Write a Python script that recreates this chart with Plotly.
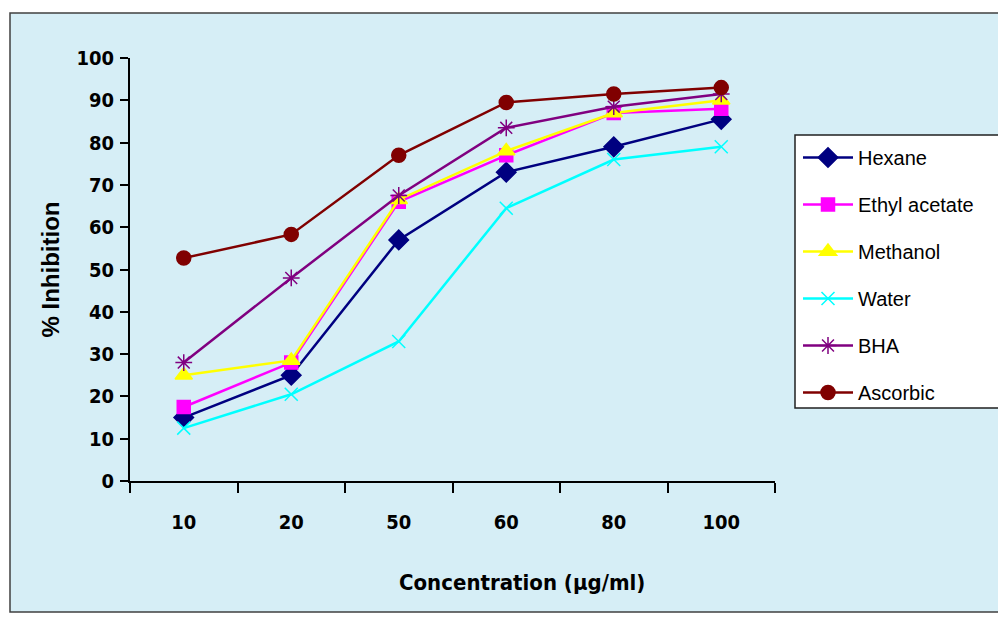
import plotly.graph_objects as go

categories = ["10", "20", "50", "60", "80", "100"]
hexane = [15, 25, 57, 73, 79, 85.5]
ethyl_acetate = [17.5, 28, 66, 77, 87, 88]
methanol = [25, 28.5, 66.5, 78, 87, 90]
water = [12.5, 20.5, 33, 64.5, 76, 79]
bha = [28, 48, 67.5, 83.5, 88.5, 91.5]
ascorbic = [52.7, 58.3, 77, 89.5, 91.5, 93]

series = [
    ("Hexane", hexane, "#000080", "diamond", 15),
    ("Ethyl acetate", ethyl_acetate, "#FF00FF", "square", 13),
    ("Methanol", methanol, "#FFFF00", "triangle-up", 15),
    ("Water", water, "#00FFFF", "x-thin-open", 13),
    ("BHA", bha, "#800080", "asterisk-open", 14),
    ("Ascorbic", ascorbic, "#800000", "circle", 14),
]

fig = go.Figure()
for i, (name, vals, col, sym, sz) in enumerate(series):
    fig.add_trace(go.Scatter(
        x=categories, y=vals, name=name, mode="lines+markers",
        line=dict(color=col, width=2.5),
        marker=dict(symbol=sym, size=sz, color=col, line=dict(color=col, width=1.5)),
        legendgroup=name,
    ))

W, H = 998, 617
L, R, T, B = 130, 998 - 775, 58, 617 - 481
pw, ph = W - L - R, H - T - B

def px_x(p):
    return (p - L) / pw

def px_y(p):
    return (H - B - p) / ph

# outer chart area
fig.add_shape(type="rect", xref="paper", yref="paper",
              x0=px_x(10), x1=px_x(1005), y0=px_y(612), y1=px_y(13),
              fillcolor="#D6EEF6", line=dict(color="#404040", width=1.5), layer="below")
# legend box (extends past the right edge like the reference)
fig.add_shape(type="rect", xref="paper", yref="paper",
              x0=px_x(795), x1=px_x(1010), y0=px_y(408), y1=px_y(135),
              fillcolor="white", line=dict(color="#202020", width=1.5), layer="below")

boldfam = "Liberation Sans Narrow, DejaVu Sans Condensed, Arial Narrow"
tickfont = dict(family=boldfam, size=20, color="black", weight="bold")

fig.add_annotation(text="Concentration (µg/ml)", xref="paper", yref="paper",
                   x=px_x(522), y=px_y(582), showarrow=False, xanchor="center", yanchor="middle",
                   font=dict(family=boldfam, size=22, color="black", weight="bold"))

fig.update_layout(
    width=W, height=H,
    margin=dict(l=L, r=R, t=T, b=B, pad=0, autoexpand=False),
    paper_bgcolor="white",
    plot_bgcolor="rgba(0,0,0,0)",
    showlegend=True,
    legend=dict(
        x=px_x(798), y=px_y(138), xanchor="left", yanchor="top",
        bgcolor="rgba(0,0,0,0)", borderwidth=0,
        font=dict(family="Liberation Sans, Arial", size=20, color="black"),
        traceorder="grouped", tracegroupgap=18, itemwidth=50,
    ),
    xaxis=dict(
        type="category", range=[-0.5, 5.5],
        showgrid=False, zeroline=False,
        showline=True, linecolor="black", linewidth=2,
        ticks="outside", tickson="boundaries", ticklen=10, tickwidth=2, tickcolor="black",
        tickfont=tickfont, ticklabelstandoff=22,
    ),
    yaxis=dict(
        range=[0, 100], dtick=10, tick0=0,
        showgrid=False, zeroline=False,
        showline=True, linecolor="black", linewidth=2,
        ticks="outside", ticklen=8, tickwidth=2, tickcolor="black",
        tickfont=tickfont, ticklabelstandoff=2,
        title=dict(text="% Inhibition", standoff=10,
                   font=dict(family="Liberation Sans, Arial", size=24, color="black", weight="bold")),
    ),
)

fig.write_html("out.html")
